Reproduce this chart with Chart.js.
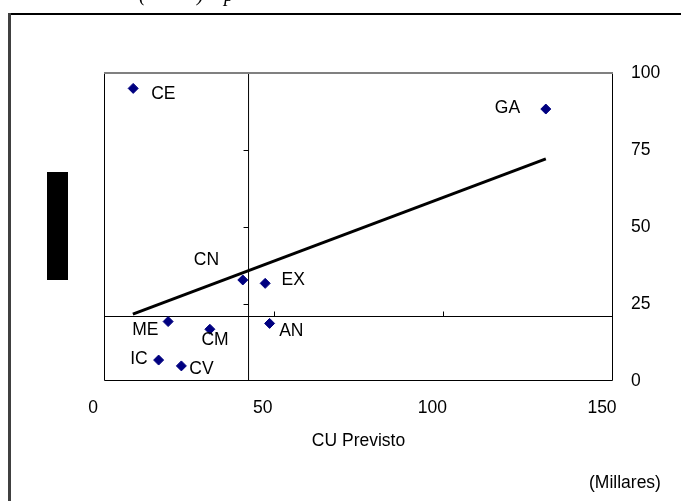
<!DOCTYPE html>
<html><head><meta charset="utf-8">
<script src="https://cdn.jsdelivr.net/npm/chart.js@4"></script>
<style>html,body{margin:0;padding:0;background:#fff}#wrap{width:681px;height:501px;position:relative}</style>
</head><body><div id="wrap"><canvas id="c" width="681" height="501"></canvas></div>
<script>
// ---- data ----
const regionCodes = ['CE','GA','CN','EX','ME','CM','AN','IC','CV'];
const cuPrevisto  = [8.6, 130.2, 40.9, 47.5, 18.9, 31.2, 48.8, 16.1, 22.8];
const yValues     = [95.0, 88.3, 32.8, 31.7, 19.3, 16.8, 18.7, 6.8, 4.9];
const trendX = [8.5, 130.2];
const trendY = [21.7, 72.1];
const meanX = 42.6;
const meanY = 20.94;
const xTickValues = [0, 50, 100, 150];
const yTickValues = [0, 25, 50, 75, 100];
const xAxisTitle = 'CU Previsto';
const unitNote = '(Millares)';

// ---- label placement (style) ----
const labelOffsets = {
  CE:{dx:18,dy:5.5,align:'left'}, GA:{dx:-25.7,dy:-1,align:'right'},
  CN:{dx:-23.7,dy:-20,align:'right'}, EX:{dx:16.4,dy:-3.6,align:'left'},
  ME:{dx:-9.7,dy:9,align:'right'}, CM:{dx:5.2,dy:10.7,align:'center'},
  AN:{dx:9.6,dy:7.4,align:'left'}, IC:{dx:-11,dy:-1,align:'right'},
  CV:{dx:8,dy:3,align:'left'}
};
const FONT = 'Liberation Sans, Arial, sans-serif';
const FS = 17.5;

const points = cuPrevisto.map((x,i)=>({x:x,y:yValues[i]}));
const trend = trendX.map((x,i)=>({x:x,y:trendY[i]}));

const extras = {
  id:'extras',
  afterDatasetsDraw(chart){
    const ctx = chart.ctx, a = chart.chartArea, xs = chart.scales.x, ys = chart.scales.y;
    ctx.save();
    ctx.strokeStyle = '#000'; ctx.lineWidth = 1;
    const mx = xs.getPixelForValue(meanX), my = ys.getPixelForValue(meanY);
    yTickValues.forEach(v=>{ if(v>0 && v<100){ const py = Math.round(ys.getPixelForValue(v))+0.5; ctx.beginPath(); ctx.moveTo(mx-5,py); ctx.lineTo(mx,py); ctx.stroke(); }});
    xTickValues.forEach(v=>{ if(v>0 && v<150){ const px = Math.round(xs.getPixelForValue(v))+0.5; ctx.beginPath(); ctx.moveTo(px,my-5); ctx.lineTo(px,my); ctx.stroke(); }});
    ctx.beginPath();
    ctx.moveTo(a.left+0.5, a.top); ctx.lineTo(a.left+0.5, a.bottom-0.5);
    ctx.lineTo(a.right-0.5, a.bottom-0.5); ctx.lineTo(a.right-0.5, a.top);
    ctx.stroke();
    ctx.strokeStyle = '#808080'; ctx.lineWidth = 2;
    ctx.beginPath(); ctx.moveTo(a.left, a.top); ctx.lineTo(a.right, a.top); ctx.stroke();
    ctx.fillStyle = '#000'; ctx.font = FS + 'px ' + FONT; ctx.textBaseline = 'middle';
    const meta = chart.getDatasetMeta(0);
    meta.data.forEach((el,i)=>{
      const o = labelOffsets[regionCodes[i]];
      ctx.textAlign = o.align;
      ctx.fillText(regionCodes[i], el.x + o.dx, el.y + o.dy);
    });
    ctx.textAlign = 'left';
    ctx.fillText(unitNote, 589, 483);
    ctx.fillStyle = '#000';
    ctx.fillRect(47, 172, 21, 108);
    ctx.fillRect(8, 13, 673, 2);
    ctx.fillStyle = '#404040';
    ctx.fillRect(8, 13, 3, 488);
    ctx.fillStyle = '#000';
    ctx.font = 'italic 20px Liberation Serif, serif';
    ctx.textBaseline = 'alphabetic';
    ctx.fillText('(', 139, 1);
    ctx.fillText(')', 197, 1);
    ctx.fillText('p', 224, 1);
    ctx.restore();
  }
};

new Chart(document.getElementById('c'), {
  type:'scatter',
  data:{datasets:[
    {label:'Regiones', data:points, pointStyle:'rectRot', pointRadius:5, pointHoverRadius:5,
     backgroundColor:'#000080', borderColor:'#000080', borderWidth:1, order:0},
    {label:'Tendencia', data:trend, showLine:true, pointRadius:0, borderColor:'#000', borderWidth:3, order:1},
    {label:'MediaX', data:[{x:meanX,y:0},{x:meanX,y:100}], showLine:true, pointRadius:0, borderColor:'#000', borderWidth:1, order:2},
    {label:'MediaY', data:[{x:0,y:meanY},{x:150,y:meanY}], showLine:true, pointRadius:0, borderColor:'#000', borderWidth:1, order:2}
  ]},
  options:{
    responsive:false, animation:false, devicePixelRatio:1,
    layout:{padding:{left:104, top:73, right:0, bottom:0}},
    plugins:{legend:{display:false}, tooltip:{enabled:false}},
    scales:{
      x:{type:'linear', position:'bottom', min:0, max:150,
         grid:{display:false, drawTicks:false}, border:{display:false},
         ticks:{stepSize:50, labelOffset:-11, padding:17, color:'#000', font:{family:FONT,size:FS}, maxRotation:0, autoSkip:false},
         title:{display:true, text:xAxisTitle, color:'#000', font:{family:FONT,size:FS}, padding:{top:0,bottom:49}},
         afterBuildTicks(s){ s.ticks = xTickValues.map(v=>({value:v})); },
         afterFit(s){ s.height = 120; }},
      y:{type:'linear', position:'right', min:0, max:100,
         grid:{display:false, drawTicks:false}, border:{display:false},
         ticks:{stepSize:25, padding:18, color:'#000', font:{family:FONT,size:FS}},
         afterBuildTicks(s){ s.ticks = yTickValues.map(v=>({value:v})); },
         afterFit(s){ s.width = 68; }}
    }
  },
  plugins:[extras]
});
</script></body></html>
